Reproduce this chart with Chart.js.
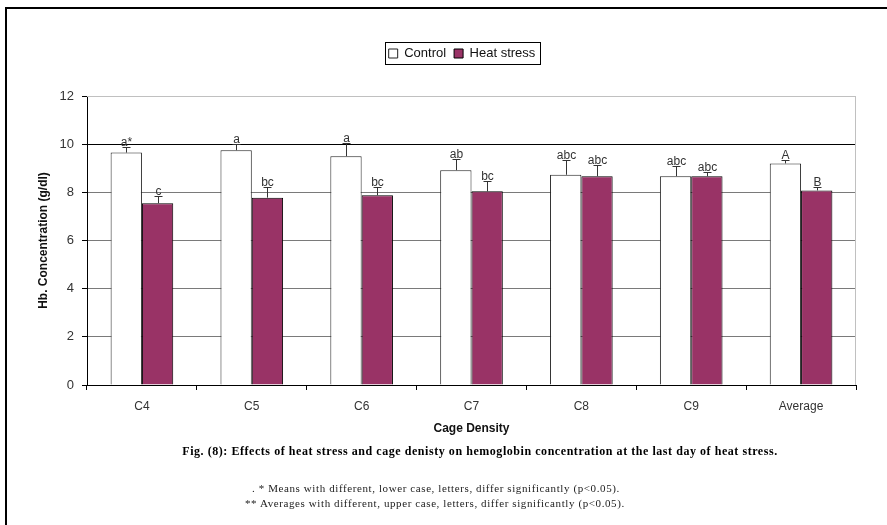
<!DOCTYPE html>
<html>
<head>
<meta charset="utf-8">
<script src="https://cdn.jsdelivr.net/npm/chart.js@4.4.1/dist/chart.umd.min.js"></script>
<style>
    body {
        margin: 0;
        background: #fff;
        width: 887px;
        height: 525px;
        overflow: hidden;
        position: relative;
    }
    #frame {
        position: absolute;
        left: 5px;
        top: 7px;
        width: 900px;
        height: 540px;
        border-left: 2px solid #000;
        border-top: 2px solid #000;
    }
    #wrap {
        position: absolute;
        left: 0;
        top: 0;
        width: 887px;
        height: 525px;
    }
    .caption {
        position: absolute;
        left: 0;
        width: 960px;
        text-align: center;
        top: 444px;
        font-family: "Liberation Serif", serif;
        font-weight: bold;
        font-size: 12px;
        letter-spacing: 0.55px;
        color: #000;
    }
    .note {
        position: absolute;
        font-family: "Liberation Serif", serif;
        font-size: 11px;
        letter-spacing: 0.6px;
        color: #222;
    }
</style>
</head>
<body>
<div id="frame"></div>
<div id="wrap"><canvas id="hbChart" width="887" height="525"></canvas></div>
<div class="caption">Fig. (8): Effects of heat stress and cage denisty on hemoglobin concentration at the last day of heat stress.</div>
<div class="note" style="top:482px; left:252px">. * Means with different, lower case, letters, differ significantly (p&lt;0.05).</div>
<div class="note" style="top:497px; left:245px">** Averages with different, upper case, letters, differ significantly (p&lt;0.05).</div>

<script>
const cages = ["C4", "C5", "C6", "C7", "C8", "C9", "Average"];
const controlVals = [9.65, 9.75, 9.5, 8.92, 8.73, 8.67, 9.2];
const heatVals = [7.55, 7.78, 7.88, 8.04, 8.67, 8.67, 8.08];
const controlErr = [0.25, 0.25, 0.54, 0.48, 0.6, 0.43, 0.14];
const heatErr = [0.31, 0.45, 0.35, 0.42, 0.45, 0.19, 0.15];
const controlLetters = ["a*", "a", "a", "ab", "abc", "abc", "A"];
const heatLetters = ["c", "bc", "bc", "bc", "abc", "abc", "B"];
const yTicks = [0, 2, 4, 6, 8, 10, 12];

const ctx = document.getElementById("hbChart");
const fontFam = "'Liberation Sans', Arial, sans-serif";

// error bars + letters above them, plus plot frame and legend box
const extras = {
    id: "extras",
    beforeLayout(chart) {
        // leave a gap between the legend and the plot
        const lg = chart.legend;
        if (lg && !lg.extraSpace) {
            const fit = lg.fit;
            lg.fit = function () {
                fit.call(this);
                this.height += 26;
            };
            lg.extraSpace = true;
        }
    },
    afterLayout(chart) {
        // legend sits a bit right of centre in the original
        chart.legend.left += 16;
        chart.legend.right += 16;
    },
    beforeDatasetsDraw(chart) {
        const a = chart.chartArea;
        const c = chart.ctx;
        c.save();
        c.strokeStyle = "#c0c0c0";
        c.lineWidth = 1;
        c.beginPath();
        c.moveTo(a.left, a.top + 0.5);
        c.lineTo(a.right - 0.5, a.top + 0.5);
        c.lineTo(a.right - 0.5, a.bottom);
        c.stroke();
        c.restore();
    },
    afterDatasetsDraw(chart) {
        const c = chart.ctx;
        const y = chart.scales.y;
        const errs = [controlErr, heatErr];
        const letters = [controlLetters, heatLetters];
        c.save();
        for (let d = 0; d < 2; d++) {
            const meta = chart.getDatasetMeta(d);
            const vals = chart.data.datasets[d].data;
            meta.data.forEach((bar, i) => {
                const x = Math.round(bar.x) + 0.5;
                const yTop = Math.round(y.getPixelForValue(vals[i] + errs[d][i])) + 0.5;
                const yBase = y.getPixelForValue(vals[i]);
                c.strokeStyle = "#333";
                c.lineWidth = 1;
                c.beginPath();
                c.moveTo(x, yBase);
                c.lineTo(x, yTop);
                c.moveTo(x - 4, yTop);
                c.lineTo(x + 4, yTop);
                c.stroke();
                c.fillStyle = "#333";
                c.font = "12px " + fontFam;
                c.textAlign = "center";
                c.textBaseline = "bottom";
                c.fillText(letters[d][i], x, yTop + 1);
            });
        }
        c.restore();
    },
    afterDraw(chart) {
        const boxes = chart.legend.legendHitBoxes;
        if (!boxes || !boxes.length) return;
        let l = Infinity, r = -Infinity, t = Infinity, b = -Infinity;
        boxes.forEach((h) => {
            l = Math.min(l, h.left);
            r = Math.max(r, h.left + h.width);
            t = Math.min(t, h.top);
            b = Math.max(b, h.top + h.height);
        });
        const c = chart.ctx;
        c.save();
        c.strokeStyle = "#000";
        c.lineWidth = 1;
        c.strokeRect(Math.round(l - 4) + 0.5, Math.round(t - 5) + 0.5, Math.round(r - l + 8), Math.round(b - t + 9));
        c.restore();
    },
};

new Chart(ctx, {
    type: "bar",
    data: {
        labels: cages,
        datasets: [
            {
                label: "Control",
                data: controlVals,
                backgroundColor: "#ffffff",
                borderColor: "#222",
                borderWidth: 1,
                borderSkipped: "bottom",
                categoryPercentage: 0.57,
                barPercentage: 1.0,
            },
            {
                label: "Heat stress",
                data: heatVals,
                backgroundColor: "#993366",
                borderColor: "#000",
                borderWidth: 1,
                borderSkipped: "bottom",
                categoryPercentage: 0.57,
                barPercentage: 1.0,
            },
        ],
    },
    options: {
        responsive: false,
        animation: false,
        layout: {
            padding: { left: 36, right: 31, top: 39, bottom: 89 },
        },
        plugins: {
            legend: {
                position: "top",
                labels: {
                    boxWidth: 9,
                    boxHeight: 9,
                    padding: 8,
                    color: "#111",
                    font: { family: fontFam, size: 13 },
                },
            },
            tooltip: { enabled: false },
        },
        scales: {
            x: {
                grid: {
                    drawOnChartArea: false,
                    tickLength: 5,
                    tickColor: "#000",
                    offset: true,
                },
                border: { color: "#000" },
                ticks: {
                    color: "#333",
                    padding: 9,
                    font: { family: fontFam, size: 12 },
                },
                title: {
                    display: true,
                    text: "Cage Density",
                    color: "#111",
                    font: { family: fontFam, size: 12, weight: "bold" },
                    padding: { top: 6, bottom: 0 },
                },
                afterFit(scale) {
                    scale.height = 51;
                },
            },
            y: {
                min: 0,
                max: 12,
                afterBuildTicks(scale) {
                    scale.ticks = yTicks.map((v) => ({ value: v }));
                },
                grid: {
                    color: (c) => (c.tick && c.tick.value === 10 ? "#000" : c.tick && c.tick.value === 12 ? "#c0c0c0" : "#7a7a7a"),
                    tickLength: 5,
                    tickColor: "#000",
                },
                border: { color: "#000" },
                ticks: {
                    color: "#333",
                    padding: 8,
                    font: { family: fontFam, size: 13 },
                },
                title: {
                    display: true,
                    text: "Hb. Concentration (g/dl)",
                    color: "#111",
                    font: { family: fontFam, size: 12, weight: "bold" },
                    padding: { top: 0, bottom: 0 },
                },
                afterFit(scale) {
                    scale.width = 51;
                },
            },
        },
    },
    plugins: [extras],
});
</script>
</body>
</html>
